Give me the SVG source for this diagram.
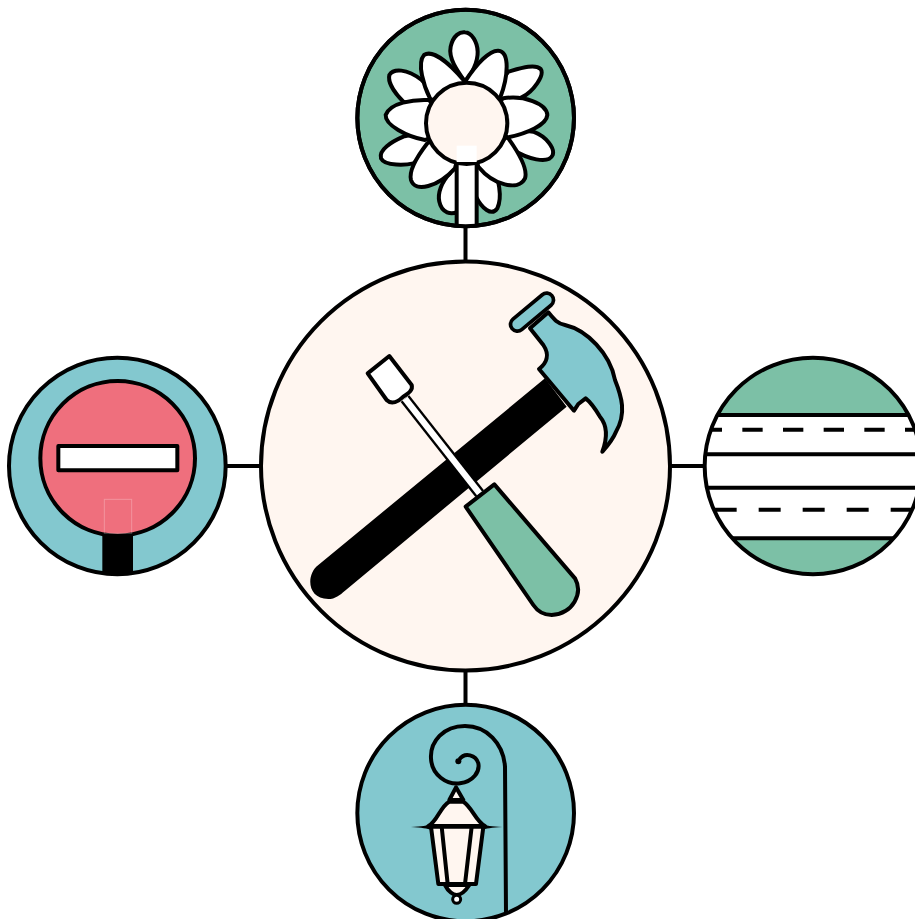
<svg xmlns="http://www.w3.org/2000/svg" width="915" height="919" viewBox="0 0 915 919">
<style>
.k{stroke:#000;stroke-width:12;stroke-linejoin:round;stroke-linecap:butt}
.w{fill:#fff}.c{fill:#fff6f0}.g{fill:#7cc0a6}.t{fill:#83c8cf}.p{fill:#ef6f7d}
.n{fill:none}
.conn{stroke:#000;stroke-width:4;fill:none}
</style>
<defs>
<clipPath id="clipTop"><circle cx="347" cy="354" r="325"/></clipPath>
<clipPath id="clipLeft"><circle cx="352" cy="348" r="325"/></clipPath>
<clipPath id="clipRight"><circle cx="354" cy="348" r="325"/></clipPath>
</defs>
<rect width="915" height="919" fill="#fff"/>
<g id="connectors">
<path class="conn" d="M465.5 226V262M465.5 670V706M226 466H262M670 466H706"/>
</g>
<g id="node-tools">
<circle class="c" cx="465.5" cy="466" r="204.5" stroke="#000" stroke-width="4"/>
<g transform="translate(300 350) scale(.33333)">
<path d="M735 85L55 645C18 672 20 747 85 747C105 747 120 735 135 722L800 170Z" fill="#000"/>
</g>
<g transform="translate(440 280) scale(.33333)">
<path class="t k" d="M297 267C320 250 330 225 310 195L270 145L325 97C340 115 350 130 375 135C440 150 510 220 525 300C545 350 560 400 528 455C518 480 500 500 487 515C500 480 505 440 480 410C465 385 450 365 437 355L415 372L402 392Z"/>
<path d="M232 133L320 60" stroke="#000" stroke-width="52" stroke-linecap="round" fill="none"/>
<path d="M232 133L320 60" stroke="#83c8cf" stroke-width="30" stroke-linecap="round" fill="none"/>
</g>
<g transform="translate(300 350) scale(.33333)">
<path d="M315 146L539 431" stroke="#000" stroke-width="33" fill="none"/>
<path d="M315 146L539 431" stroke="#fff" stroke-width="19" fill="none"/>
<path class="w k" d="M203 70L268 18L335 105C340 120 325 130 310 140C295 155 275 165 260 150Z"/>
<path class="g k" d="M497 470L583 403L825 685C850 730 820 790 755 795C725 795 710 780 700 765Z"/>
</g>
</g>
<g id="node-flower" transform="translate(350 0) scale(.33333)">
<circle class="g k" cx="347" cy="354" r="325"/>
<path class="w k" d="M345 245C320 210 295 175 302 140C310 105 330 95 345 97C365 98 382 125 383 155C384 185 365 225 345 245Z"/>
<path class="w k" d="M475 215C510 205 555 190 572 207C585 225 550 275 515 292L350 370Z"/>
<path class="w k" d="M215 240C170 205 130 205 118 225C112 250 140 285 160 305L350 370Z"/>
<path class="w k" d="M160 410C125 425 85 450 93 475C105 500 170 495 190 490L350 370Z"/>
<path class="w k" d="M550 395C590 410 615 445 608 465C595 495 530 475 490 450L350 370Z"/>
<path class="w k" d="M300 520C275 545 262 580 268 605C275 640 305 645 322 635L350 370Z"/>
<path class="w k" d="M378 590C395 625 425 650 442 625C458 590 445 530 430 515L350 370Z"/>
<path class="w k" d="M240 295C222 260 200 190 222 165C245 150 290 180 345 245L350 370Z"/>
<path class="w k" d="M345 245C380 190 420 150 445 152C480 155 475 230 450 295L350 370Z"/>
<path class="w k" d="M235 300C190 298 120 308 107 345C105 375 170 410 225 420L350 370Z"/>
<path class="w k" d="M460 295C520 285 590 310 592 345C590 375 530 400 475 412L350 370Z"/>
<path class="w k" d="M232 430C205 465 175 510 183 540C195 580 265 560 315 505L350 370Z"/>
<path class="w k" d="M475 415C500 450 535 505 525 535C505 575 430 555 385 500L350 370Z"/>
<g clip-path="url(#clipTop)">
<rect class="w" x="320" y="480" width="60" height="205"/>
<path class="k n" d="M320 480V685M380 480V685"/>
</g>
<circle class="c k" cx="350" cy="370" r="122"/>
<rect class="w" x="320" y="437" width="60" height="49"/>
<circle class="k n" cx="347" cy="354" r="325"/>
</g>
<g id="node-noentry" transform="translate(0 350) scale(.33333)">
<circle class="t" cx="352" cy="348" r="325"/>
<rect x="307" y="550" width="92" height="125" fill="#000" clip-path="url(#clipLeft)"/>
<circle class="k n" cx="352" cy="348" r="325"/>
<circle class="p k" cx="353" cy="325" r="232"/>
<rect x="313" y="448" width="82" height="102" fill="none" stroke="#fff" stroke-opacity=".25" stroke-width="3"/>
<rect class="w k" x="175" y="288" width="357" height="73" stroke-linejoin="miter"/>
</g>
<g id="node-road" transform="translate(695 350) scale(.33333)">
<circle class="g" cx="354" cy="348" r="325"/>
<g clip-path="url(#clipRight)">
<rect class="w" x="0" y="195" width="700" height="370"/>
<path class="k n" d="M0 195H700M0 313H700M0 413H700M0 565H700"/>
<path class="k n" d="M20 239H700" stroke-dasharray="61 61"/>
<path class="k n" d="M-73 479H700" stroke-dasharray="66 66"/>
</g>
<circle class="k n" cx="354" cy="348" r="325"/>
</g>
<g id="node-lamp" transform="translate(350 700) scale(.33333)">
<circle class="t k" cx="347" cy="339" r="325"/>
<path class="k n" d="M468 640L465 200C460 130 410 78 345 78C280 78 240 125 243 175C245 225 290 255 330 250C370 245 390 215 385 190C378 165 345 155 328 178"/>
<circle cx="325" cy="184" r="9" fill="#000"/>
<path class="c k" d="M318 262L298 300H340Z"/>
<path class="c k" d="M298 305C270 320 262 365 235 378H405C378 365 365 320 340 305Z"/>
<path d="M183 381C215 380 232 376 245 372V390C232 385 215 383 183 381ZM457 381C425 380 408 376 395 372V390C408 385 425 383 457 381Z" fill="#000"/>
<path class="c k" d="M243 380L265 552H378L400 380Z"/>
<path class="k n" d="M275 380L293 552M365 380L345 552"/>
<path class="c k" d="M285 555C295 575 310 585 320 585C335 585 345 575 358 555Z"/>
<circle class="w" cx="320" cy="598" r="12" stroke="#000" stroke-width="9"/>
</g>
</svg>
